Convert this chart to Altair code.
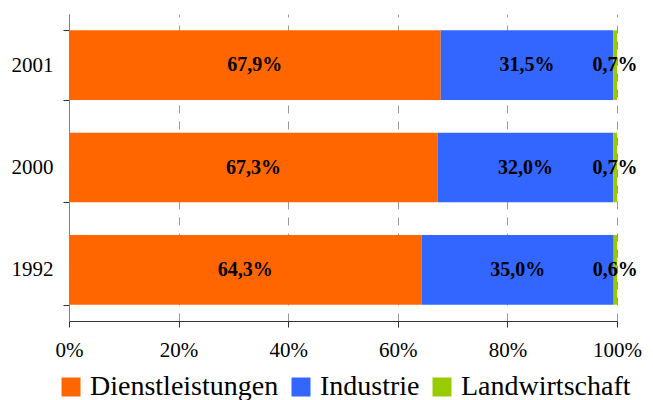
import altair as alt
import pandas as pd

years = ["2001", "2000", "1992"]
sectors = ["Dienstleistungen", "Industrie", "Landwirtschaft"]
dienst = [67.9, 67.3, 64.3]
industrie = [31.5, 32.0, 35.0]
landw = [0.7, 0.7, 0.6]
colors = ["#FF6600", "#3366FF", "#99CC00"]

rows = []
for i, y in enumerate(years):
    for j, (s, vals) in enumerate(zip(sectors, [dienst, industrie, landw])):
        v = vals[i]
        rows.append({"year": y, "sector": s, "order": j, "value": v,
                     "label": f"{v:.1f}".replace(".", ",") + "%"})
df = pd.DataFrame(rows)

FONT = "Times New Roman, Liberation Serif, serif"

base = alt.Chart(df).transform_stack(
    stack="value", groupby=["year"], as_=["v1", "v2"],
    offset="normalize", sort=[alt.SortField("order", order="ascending")]
).transform_calculate(mid="(datum.v1 + datum.v2) / 2")

yenc = alt.Y("year:N", sort=years, title=None,
             scale=alt.Scale(paddingInner=0.32, paddingOuter=0.16),
             axis=alt.Axis(tickBand="extent", grid=False, domainColor="#808080",
                           tickColor="#333333", tickSize=6, labelPadding=10,
                           labelFont=FONT, labelFontSize=21, labelColor="black"))

bars = base.mark_bar().encode(
    x=alt.X("v1:Q", title=None, scale=alt.Scale(domain=[0, 1]),
            axis=alt.Axis(format=".0%", values=[0, 0.2, 0.4, 0.6, 0.8, 1.0],
                          grid=True, gridDash=[8, 8], gridColor="#999999",
                          domainColor="#333333", tickColor="#333333", tickSize=6,
                          labelPadding=12, labelFont=FONT, labelFontSize=21,
                          labelColor="black", labelFlush=False)),
    x2="v2:Q",
    y=yenc,
    color=alt.Color("sector:N", sort=sectors,
                    scale=alt.Scale(domain=sectors, range=colors),
                    legend=alt.Legend(title=None, orient="none", direction="horizontal",
                                      legendX=-12, legendY=359, symbolType="square",
                                      symbolSize=361, symbolStrokeWidth=0,
                                      labelFont=FONT, labelFontSize=28,
                                      labelColor="black", labelLimit=400,
                                      columnPadding=8, labelOffset=5)),
    order=alt.Order("order:Q"),
)

text = base.mark_text(font=FONT, fontSize=20, fontWeight="bold", color="black").encode(
    x="mid:Q",
    y=alt.Y("year:N", sort=years),
    text="label:N",
)

chart = alt.layer(bars, text).properties(
    width=548, height=307,
    autosize=alt.AutoSizeParams(type="none"),
    padding={"left": 61, "top": 6, "right": 28, "bottom": 86},
).configure_view(stroke=None)

chart.save("out.html", embed_options={"renderer": "svg", "actions": False})
